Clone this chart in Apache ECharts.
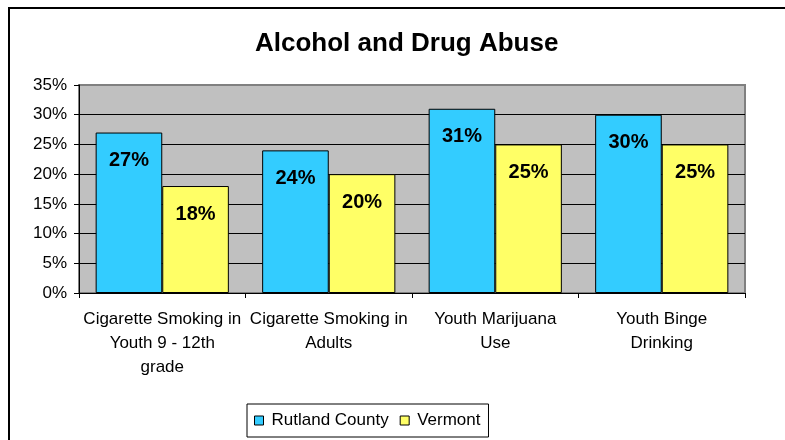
<!DOCTYPE html>
<html>
<head>
<meta charset="utf-8">
<script src="https://cdn.jsdelivr.net/npm/echarts@6/dist/echarts.min.js"></script>
<style>
  html, body { margin: 0; padding: 0; background: #fff; }
  #chart { width: 785px; height: 440px; }
</style>
</head>
<body>
<div id="chart"></div>
<script>
// Categories (x axis) and the two series, in percent
const categories = [
  'Cigarette Smoking in\nYouth 9 - 12th\ngrade',
  'Cigarette Smoking in\nAdults',
  'Youth Marijuana\nUse',
  'Youth Binge\nDrinking'
];
const rutlandCounty = [27, 24, 31, 30];
const vermont = [18, 20, 25, 25];
const seriesNames = ['Rutland County', 'Vermont'];
const yTicks = { min: 0, max: 35, interval: 5 };

const FONT = "'Liberation Sans', Arial, sans-serif";

const chart = echarts.init(document.getElementById('chart'), null, { renderer: 'canvas' });

const barLabel = {
  show: true,
  position: 'insideTop',
  distance: 18,
  formatter: '{c}%',
  color: '#000',
  fontFamily: FONT,
  fontWeight: 'bold',
  fontSize: 20
};

chart.setOption({
  animation: false,
  backgroundColor: '#fff',
  textStyle: { fontFamily: FONT },
  title: {
    text: 'Alcohol and Drug Abuse',
    left: 255,
    top: 31,
    padding: 0,
    textStyle: { fontFamily: FONT, fontWeight: 'bold', fontSize: 26, color: '#000' }
  },
  graphic: [{
    type: 'rect',
    shape: { x: 9, y: 8, width: 900, height: 600 },
    style: { fill: 'none', stroke: '#000', lineWidth: 2 },
    silent: true,
    z: 100
  }],
  legend: {
    data: seriesNames,
    left: 247,
    top: 404,
    orient: 'horizontal',
    icon: 'rect',
    itemWidth: 9,
    itemHeight: 9,
    itemGap: 11,
    padding: [8, 8, 8, 7],
    backgroundColor: '#fff',
    borderColor: '#000',
    borderWidth: 1,
    textStyle: { fontFamily: FONT, fontSize: 17, color: '#000', padding: [0, 0, 0, 3] },
    itemStyle: { borderColor: '#000', borderWidth: 1 }
  },
  grid: {
    left: 79,
    right: 40,
    top: 85,
    bottom: 147,
    show: true,
    backgroundColor: '#C0C0C0',
    borderColor: '#808080',
    borderWidth: 2
  },
  xAxis: {
    type: 'category',
    data: categories,
    axisLine: { show: true, lineStyle: { color: '#000', width: 1 } },
    axisTick: { show: true, length: 5, lineStyle: { color: '#000' } },
    axisLabel: {
      interval: 0,
      margin: 14,
      color: '#000',
      fontFamily: FONT,
      fontSize: 17,
      lineHeight: 24,
      align: 'center'
    },
    splitLine: { show: false }
  },
  yAxis: {
    type: 'value',
    min: yTicks.min,
    max: yTicks.max,
    interval: yTicks.interval,
    axisLine: { show: true, lineStyle: { color: '#000', width: 1 } },
    axisTick: { show: true, length: 5, lineStyle: { color: '#000' } },
    axisLabel: {
      formatter: '{value}%',
      margin: 12,
      color: '#000',
      fontFamily: FONT,
      fontSize: 17
    },
    splitLine: {
      show: true,
      lineStyle: {
        color: ['#000', '#000', '#000', '#000', '#000', '#000', '#000', '#808080'],
        width: 1
      }
    }
  },
  series: [
    {
      name: seriesNames[0],
      type: 'bar',
      data: rutlandCounty,
      barGap: '0%',
      barCategoryGap: '20%',
      itemStyle: { color: '#33CCFF', borderColor: '#000', borderWidth: 1 },
      label: barLabel
    },
    {
      name: seriesNames[1],
      type: 'bar',
      data: vermont,
      barGap: '0%',
      barCategoryGap: '20%',
      itemStyle: { color: '#FFFF66', borderColor: '#000', borderWidth: 1 },
      label: barLabel
    }
  ]
});
</script>
</body>
</html>
